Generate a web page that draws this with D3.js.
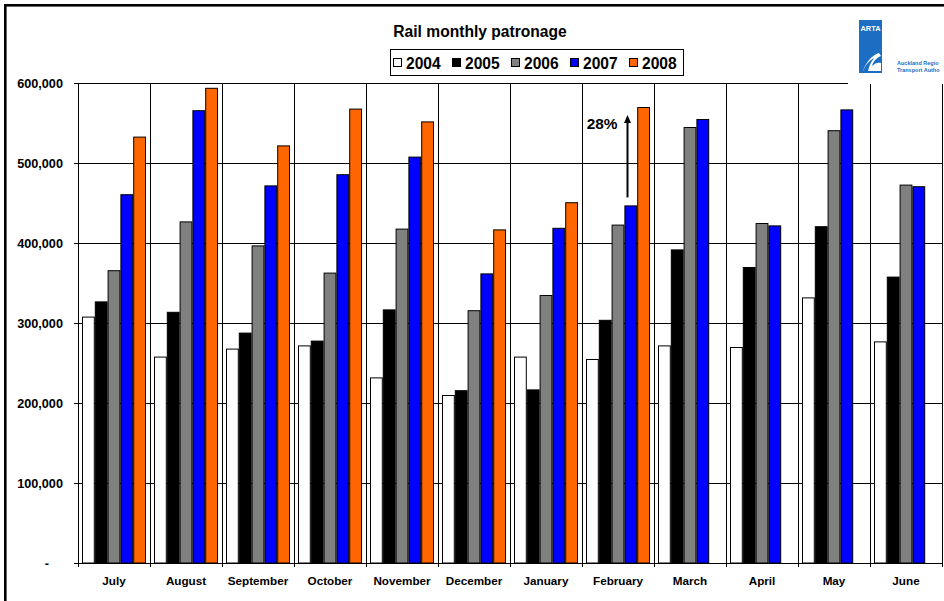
<!DOCTYPE html>
<html>
<head>
<meta charset="utf-8">
<script src="https://cdn.jsdelivr.net/npm/d3@7/dist/d3.min.js"></script>
<style>
  html, body { margin: 0; padding: 0; background: #fff; }
  svg { display: block; }
  text { font-family: "Liberation Sans", Arial, sans-serif; font-weight: bold; fill: #000; }
</style>
</head>
<body>
<svg id="chart" width="944" height="601"></svg>
<script>
// ---- data ----
const months = ["July","August","September","October","November","December","January","February","March","April","May","June"];
const years = ["2004","2005","2006","2007","2008"];
const v2004 = [308000, 258000, 268000, 272000, 232000, 210000, 258000, 255000, 272000, 270000, 332000, 277000];
const v2005 = [327000, 314000, 288000, 278000, 317000, 216000, 217000, 304000, 392000, 370000, 421000, 358000];
const v2006 = [366000, 427000, 397000, 363000, 418000, 316000, 335000, 423000, 545000, 425000, 541000, 473000];
const v2007 = [461000, 566000, 472000, 486000, 508000, 362000, 419000, 447000, 555000, 422000, 567000, 471000];
const v2008 = [533000, 594000, 522000, 568000, 552000, 417000, 451000, 570000, null, null, null, null];
const yTicks = [0, 100000, 200000, 300000, 400000, 500000, 600000];
const colors = ["#FFFFFF", "#000000", "#808080", "#0000FF", "#FF6600"];
const annotationText = "28%";

const seriesValues = [v2004, v2005, v2006, v2007, v2008];

const svg = d3.select("#chart");
const W = 944, H = 601;
const margin = {left: 78, right: 2, top: 83, bottom: 38};
const plotL = margin.left, plotR = W - margin.right, plotT = margin.top, plotB = H - margin.bottom;

const x0 = d3.scaleBand().domain(months).range([plotL, plotR]).paddingInner(0).paddingOuter(0);
const x1 = d3.scaleBand().domain(years).range([4, x0.bandwidth() - 4]).paddingInner(0);
const y = d3.scaleLinear().domain([0, 600000]).range([plotB, plotT]);

// outer frame
svg.append("rect").attr("x", 5.3).attr("y", 5.3).attr("width", W + 10).attr("height", H + 10)
  .attr("fill", "#fff").attr("stroke", "#000").attr("stroke-width", 2.6);

// gridlines horizontal
const gridG = svg.append("g");
gridG.selectAll("line.h").data(yTicks.filter(d => d > 0)).join("line")
  .attr("x1", plotL).attr("x2", plotR)
  .attr("y1", d => Math.round(y(d)) + 0.5).attr("y2", d => Math.round(y(d)) + 0.5)
  .attr("stroke", "#000").attr("stroke-width", 1);
// vertical gridlines at category boundaries
const bounds = months.map(m => x0(m)).concat([plotR]);
gridG.selectAll("line.v").data(bounds).join("line")
  .attr("x1", d => Math.round(d) + 0.5).attr("x2", d => Math.round(d) + 0.5)
  .attr("y1", plotT).attr("y2", plotB + 4)
  .attr("stroke", "#000").attr("stroke-width", 1);

// bars
const flat = [];
months.forEach((m, i) => {
  years.forEach((yr, j) => {
    const v = seriesValues[j][i];
    if (v != null) flat.push({m, yr, v, j});
  });
});
svg.append("g").selectAll("rect").data(flat).join("rect")
  .attr("x", d => x0(d.m) + x1(d.yr) + 0.5)
  .attr("y", d => y(d.v) + 0.5)
  .attr("width", x1.bandwidth() - 1)
  .attr("height", d => y(0) - y(d.v) - 0.5)
  .attr("fill", d => colors[d.j])
  .attr("stroke", "#000").attr("stroke-width", 1);

// y axis
const yAxis = d3.axisLeft(y).tickValues(yTicks).tickSize(4).tickSizeOuter(0).tickPadding(11)
  .tickFormat(d => d === 0 ? "-" : d3.format(",")(d));
const yg = svg.append("g").attr("transform", `translate(${plotL},0)`).call(yAxis);
yg.selectAll("text").style("font-size", "12.7px").attr("font-family", null)
  .attr("dx", d => d === 0 ? -14 : 0);
yg.selectAll("line, path").attr("stroke", "#000");

// x axis (labels only; boundary ticks drawn with gridlines)
const xAxis = d3.axisBottom(x0).tickSize(0).tickSizeOuter(0).tickPadding(14);
const xg = svg.append("g").attr("transform", `translate(0,${plotB})`).call(xAxis);
xg.selectAll("text").style("font-size", "11.7px").attr("font-family", null);
xg.select("path").attr("stroke", "#000");

// title
svg.append("text").attr("x", 480).attr("y", 36.5).attr("text-anchor", "middle")
  .style("font-size", "15.6px").text("Rail monthly patronage");

// legend
const lg = svg.append("g");
lg.append("rect").attr("x", 390.5).attr("y", 49.5).attr("width", 293).attr("height", 26)
  .attr("fill", "#fff").attr("stroke", "#000").attr("stroke-width", 1);
years.forEach((yr, j) => {
  const lx = 393 + j * 59;
  lg.append("rect").attr("x", lx + 0.5).attr("y", 58.5).attr("width", 8).attr("height", 8)
    .attr("fill", colors[j]).attr("stroke", "#000").attr("stroke-width", 1);
  lg.append("text").attr("x", lx + 13).attr("y", 68.5).style("font-size", "15.6px").text(yr);
});

// annotation arrow (February 2007 -> 2008)
const fi = months.indexOf("February");
const ax = Math.round(x0("February") + x1("2007") + 3) + 0.5;
const yFrom = y(v2007[fi]) - 8, yTo = y(v2008[fi]) + 8;
svg.append("line").attr("x1", ax).attr("x2", ax).attr("y1", yFrom).attr("y2", yTo + 6)
  .attr("stroke", "#000").attr("stroke-width", 2);
svg.append("path")
  .attr("d", `M${ax},${yTo} L${ax - 3.5},${yTo + 8} L${ax + 3.5},${yTo + 8} Z`)
  .attr("fill", "#000");
svg.append("text").attr("x", ax - 10).attr("y", yTo + 14).attr("text-anchor", "end")
  .style("font-size", "15.4px").text(annotationText);

// ARTA logo block
const logo = svg.append("g");
logo.append("rect").attr("x", 848).attr("y", 9).attr("width", 100).attr("height", 75).attr("fill", "#fff");
logo.append("rect").attr("x", 859).attr("y", 20).attr("width", 23).attr("height", 53).attr("fill", "#1B6EC2");
logo.append("text").attr("x", 870.5).attr("y", 31).attr("text-anchor", "middle")
  .style("font-size", "7.4px").style("fill", "#fff").text("ARTA");
logo.append("path")
  .attr("d", "M863,71 C866,62 872,55 879,53 L881,56 C876,58 873,62 872,66 C875,63 878,62 881,63 L881,71 Z M866,68 C869,66 872,66 874,68 L873,70 L866,70 Z")
  .attr("fill", "#fff");
logo.append("path")
  .attr("d", "M863,71 C866,64 870,60 874,58 C871,62 869,66 868,71 Z")
  .attr("fill", "#1B6EC2");
logo.append("text").attr("x", 897).attr("y", 65).style("font-size", "5.5px").style("fill", "#1B6EC2").text("Auckland Regio");
logo.append("text").attr("x", 897).attr("y", 72).style("font-size", "5.5px").style("fill", "#1B6EC2").text("Transport Autho");
</script>
</body>
</html>
